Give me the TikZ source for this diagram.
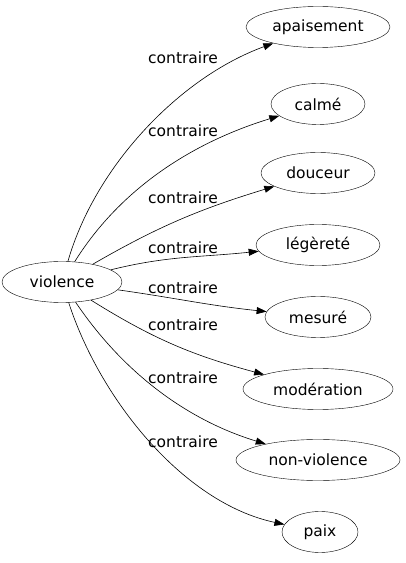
\documentclass[tikz,border=0pt]{standalone}
\usepackage{fontspec}
\setmainfont{DejaVu Sans}
\usetikzlibrary{arrows.meta,shapes.geometric}

\begin{document}
\begin{tikzpicture}[x=1pt, y=1pt, font=\fontsize{15.5}{18}\selectfont, word/.style={draw, ellipse, inner sep=0pt, minimum height=41pt}, link/.style={-{Triangle[length=10pt, width=7pt]}, line width=0.6pt}, rel/.style={inner sep=1pt}]
\useasboundingbox (0,0) rectangle (406,563);
\node[word, minimum width=120pt] (violence) at (62,281) {violence};
\node[word, minimum width=144pt] (apaisement) at (318,536) {apaisement};
\node[word, minimum width=94pt] (calme) at (318,459) {calmé};
\node[word, minimum width=114pt] (douceur) at (318,390) {douceur};
\node[word, minimum width=124pt] (legerete) at (318,318) {légèreté};
\node[word, minimum width=106pt] (mesure) at (318,246) {mesuré};
\node[word, minimum width=150pt] (moderation) at (318,174) {modération};
\node[word, minimum width=164pt] (nonviolence) at (318,103) {non-violence};
\node[word, minimum width=76pt] (paix) at (320,31) {paix};
\draw[link] (violence) to[out=74, in=200, looseness=0.85] (apaisement);
\draw[link] (violence) to[out=58, in=197, looseness=0.9] (calme);
\draw[link] (violence) to[out=30, in=197] (douceur);
\draw[link] (violence) to[out=14, in=186] (legerete);
\draw[link] (violence) to[out=-8, in=174] (mesure);
\draw[link] (violence) to[out=-32, in=165] (moderation);
\draw[link] (violence) to[out=-56, in=163, looseness=0.9] (nonviolence);
\draw[link] (violence) to[out=-72, in=168, looseness=0.85] (paix);
\node[rel] (r1) at (183,505) {contraire};
\node[rel] (r2) at (183,432) {contraire};
\node[rel] (r3) at (183,365) {contraire};
\node[rel] (r4) at (183,315) {contraire};
\node[rel] (r5) at (183,275) {contraire};
\node[rel] (r6) at (183,238) {contraire};
\node[rel] (r7) at (183,185) {contraire};
\node[rel] (r8) at (183,121) {contraire};
\end{tikzpicture}
\end{document}
